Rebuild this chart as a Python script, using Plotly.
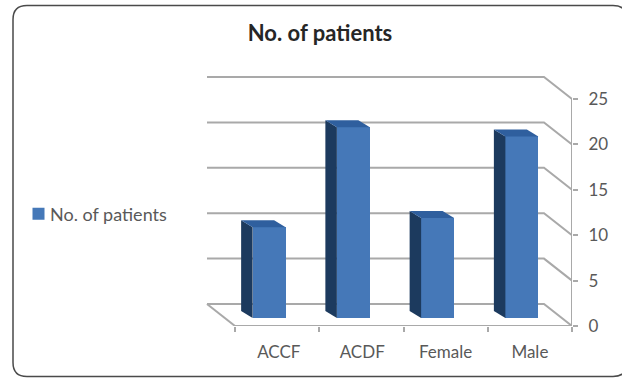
import plotly.graph_objects as go

# --- data ---
categories = ["ACCF", "ACDF", "Female", "Male"]
patients = [10, 21, 11, 20]
value_ticks = [0, 5, 10, 15, 20, 25]
label_positions = [0.52, 1.51, 2.5, 3.5]
boundaries = [0, 1, 2, 3, 4]
series_name = "No. of patients"

# --- layout constants (pixels) ---
W, H = 622, 378
FRONT_L, FRONT_R = 235, 572      # floor front edge
FRONT_Y0, FRONT_Y25 = 326, 99    # value axis
PLOT_L = 200
PLOT_T = 60
DEPTH_X, DEPTH_Y = 28, 22        # depth of the box
BAR_DX, BAR_DY = 11.5, 7         # depth of a bar
BAR_LIFT = 8                     # front face above front floor line
BAR_SHIFT = -8
BAR_W = 33

px_per_cat = (FRONT_R - FRONT_L) / 4
px_per_val = (FRONT_Y0 - FRONT_Y25) / 25
cx = lambda p: p / px_per_cat    # pixels -> x units
cy = lambda p: p / px_per_val    # pixels -> y units

x_range = [cx(PLOT_L - FRONT_L), 4]
y_range = [0, cy(FRONT_Y0 - PLOT_T)]

LINE = "#a9a9a9"
FRONT = "#4578b8"
SIDE = "#1c3a5e"
TOP = "#2f5f9e"
BORDER = "#4a4a4a"
TEXT = "#595959"

centers = [i + 0.5 + cx(BAR_SHIFT) for i in range(len(categories))]
half = cx(BAR_W) / 2
base = cy(BAR_LIFT)
ddx, ddy = cx(BAR_DX), cy(BAR_DY)

fig = go.Figure()

# front faces
fig.add_trace(go.Bar(
    x=centers, y=patients, base=[base] * len(patients), width=cx(BAR_W),
    name=series_name, marker=dict(color=FRONT, line=dict(width=0)),
    showlegend=True,
))

# side and top faces, projected from the values
for c, v in zip(centers, patients):
    l, r = c - half, c + half
    t = base + v
    fig.add_trace(go.Scatter(
        x=[l, l - ddx, l - ddx, l, l],
        y=[base, base + ddy, t + ddy, t, base],
        fill="toself", fillcolor=SIDE, mode="lines",
        line=dict(width=0, color=SIDE), showlegend=False, hoverinfo="skip"))
    fig.add_trace(go.Scatter(
        x=[l, r, r - ddx, l - ddx, l],
        y=[t, t, t + ddy, t + ddy, t],
        fill="toself", fillcolor=TOP, mode="lines",
        line=dict(width=0, color=TOP), showlegend=False, hoverinfo="skip"))

# front edges of the box: value axis line and floor edge
fig.add_trace(go.Scatter(
    x=[0, 4, 4], y=[0, 0, value_ticks[-1]], mode="lines",
    line=dict(color=LINE, width=2), cliponaxis=False,
    showlegend=False, hoverinfo="skip"))

# back wall gridlines with diagonals running to the value axis
shapes = []
bx, by = cx(DEPTH_X), cy(DEPTH_Y)
for v in value_ticks:
    path = f"M {-bx} {v + by} L {4 - bx} {v + by} L 4 {v}"
    shapes.append(dict(type="path", path=path, xref="x", yref="y", layer="below",
                       line=dict(color=LINE, width=2)))
shapes.append(dict(type="line", xref="x", yref="y", layer="below",
                   x0=-bx, y0=by, x1=0, y1=0, line=dict(color=LINE, width=2)))

# outer rounded frame, in paper coordinates
plot_w = FRONT_R - PLOT_L
plot_h = FRONT_Y0 - PLOT_T
px = lambda p: (p - PLOT_L) / plot_w
py = lambda p: (FRONT_Y0 - p) / plot_h
FL, FR, FT, FB, RAD = 13, 627, 5.5, 376.5, 14
frame = (
    f"M {px(FL)} {py(FT + RAD)} Q {px(FL)} {py(FT)} {px(FL + RAD)} {py(FT)} "
    f"L {px(FR - RAD)} {py(FT)} Q {px(FR)} {py(FT)} {px(FR)} {py(FT + RAD)} "
    f"L {px(FR)} {py(FB - RAD)} Q {px(FR)} {py(FB)} {px(FR - RAD)} {py(FB)} "
    f"L {px(FL + RAD)} {py(FB)} Q {px(FL)} {py(FB)} {px(FL)} {py(FB - RAD)} Z"
)
shapes.append(dict(type="path", path=frame, xref="paper", yref="paper", layer="below",
                   line=dict(color=BORDER, width=1.5)))

fig.update_layout(
    width=W, height=H, autosize=False,
    paper_bgcolor="white", plot_bgcolor="white",
    margin=dict(l=PLOT_L, r=W - FRONT_R, t=PLOT_T, b=H - FRONT_Y0, pad=0, autoexpand=False),
    font=dict(family="Lato", color=TEXT),
    title=dict(text="<b>" + series_name + "</b>", x=320 / W, xanchor="center",
               y=1 - 33 / H, yanchor="middle", font=dict(size=22, color="#262626")),
    showlegend=True,
    legend=dict(x=px(10), y=py(214), xanchor="left", yanchor="middle",
                font=dict(size=18, color=TEXT), bgcolor="rgba(0,0,0,0)",
                itemwidth=30),
    bargap=0,
    shapes=shapes,
    xaxis=dict(range=x_range, tickmode="array", tickvals=label_positions,
               ticktext=categories, ticks="", showgrid=False, zeroline=False,
               showline=False, fixedrange=True, tickfont=dict(size=17, color=TEXT),
               ticklabelstandoff=14,
               minor=dict(tickmode="array", tickvals=boundaries, ticks="outside",
                          ticklen=5, tickwidth=1.5, tickcolor=LINE, showgrid=False)),
    yaxis=dict(range=y_range, side="right", anchor="x", tickmode="array",
               tickvals=value_ticks, ticktext=[str(v) for v in value_ticks],
               ticks="outside", ticklen=5, tickwidth=1.5, tickcolor=LINE,
               showgrid=False, zeroline=False, showline=False, fixedrange=True,
               tickfont=dict(size=17, color=TEXT), ticklabelstandoff=7),
)

fig.write_html("out.html", config={"displayModeBar": False},
               post_script="document.body.style.margin='0';document.documentElement.style.overflow='hidden';"
                           "document.querySelectorAll('.legend .legendsymbols').forEach(function(e){e.setAttribute('transform','translate(8.5,0)');});")
